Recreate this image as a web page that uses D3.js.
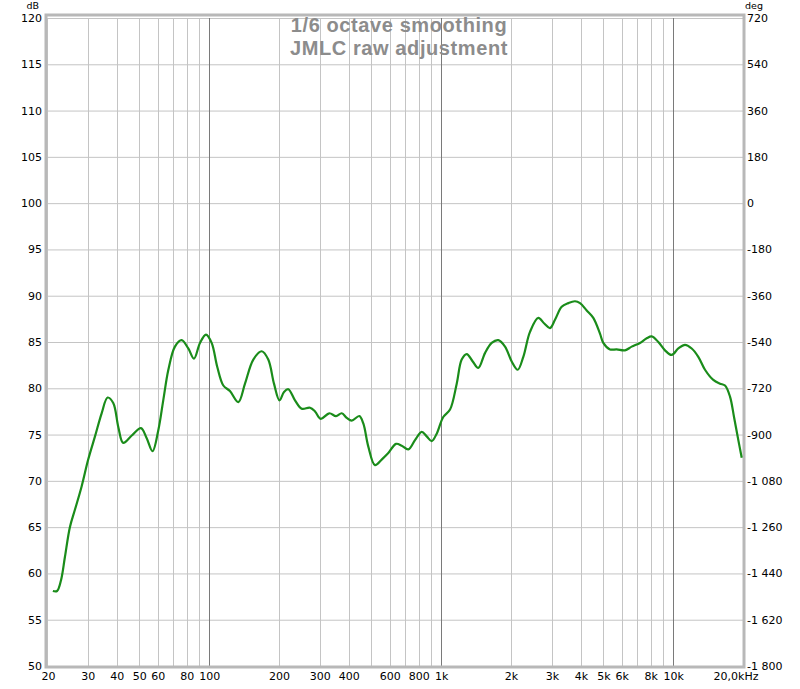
<!DOCTYPE html>
<html><head><meta charset="utf-8">
<script src="https://cdn.jsdelivr.net/npm/d3@7"></script>
<style>body{margin:0;background:#fff}svg{display:block}</style>
</head><body>
<script>
const freqs = [21.2,22.1,23.0,23.9,25.1,26.4,28.2,30.1,32.2,34.4,36.5,38.6,40.6,42.6,46.4,50.8,53.8,57.0,60.4,63.4,66.7,71.2,76.1,81.3,86.0,91.3,96.9,102.5,108.4,115.1,122.9,133.6,142.7,155.0,168.5,179.8,190.3,201,210.2,219.4,234.4,250.5,272.1,285.9,302.6,329.5,352.2,372.7,391.6,411.6,443.8,461.8,485.3,518.5,554.2,591.8,638.9,676,721.8,771.3,824.5,866.5,910.6,956.8,1021,1092,1167,1226,1289,1368,1446,1545,1651,1764,1885,2014,2138,2260,2415,2622,2783,2945,3095,3307,3532,3775,3967,4240,4527,4837,4998,5342,5709,6200,6627,7195,7691,8082,8630,9223,9856,10525,11246,12021,12834,13716,14894,15918,16730,17580,18294,19094,19747];
const levels = [58.1,58.1,59.3,61.8,65.0,66.9,69.4,72.3,74.8,77.3,79.0,78.4,75.8,74.1,74.9,75.7,74.6,73.2,75.5,78.7,82.0,84.5,85.2,84.3,83.2,84.9,85.8,84.9,82.3,80.3,79.7,78.5,80.5,83.1,84.0,83.1,80.5,78.7,79.6,79.9,78.7,77.8,77.9,77.5,76.7,77.3,77.0,77.3,76.8,76.5,77.0,76.2,73.7,71.7,72.3,73.0,74.0,73.8,73.4,74.4,75.3,74.8,74.3,75.1,76.9,77.7,80.5,83.1,83.7,82.9,82.2,83.8,84.9,85.2,84.5,82.9,82.0,83.4,86.1,87.6,87.0,86.5,87.4,88.8,89.2,89.4,89.2,88.4,87.6,85.9,84.9,84.2,84.2,84.1,84.5,84.9,85.4,85.6,85.0,84.1,83.6,84.3,84.7,84.3,83.4,82.0,80.9,80.5,80.3,79.1,76.9,74.4,72.5];
const dbTicks = [50,55,60,65,70,75,80,85,90,95,100,105,110,115,120];
const degTicks = [-1800,-1620,-1440,-1260,-1080,-900,-720,-540,-360,-180,0,180,360,540,720];
const gridFreqs = [20,30,40,50,60,70,80,90,100,200,300,400,500,600,700,800,900,1000,2000,3000,4000,5000,6000,7000,8000,9000,10000,20000];
const decadeFreqs = [100,1000,10000];
const freqLabelVals = [20,30,40,50,60,80,100,200,300,400,600,800,1000,2000,3000,4000,5000,6000,8000,10000,20000];
const freqLabelText = ["20","30","40","50","60","80","100","200","300","400","600","800","1k","2k","3k","4k","5k","6k","8k","10k","20,0kHz"];
const titleLines = ["1/6 octave smoothing","JMLC raw adjustment"];

const W=800,H=689;
const svg=d3.select("body").append("svg").attr("width",W).attr("height",H);
const x=d3.scaleLog().domain([20,20000]).range([47,743]);
const y=d3.scaleLinear().domain([50,120]).range([666,18]);
const yDeg=d3.scaleLinear().domain([-1800,720]).range([666,18]);
const font="DejaVu Sans, sans-serif";
const fs=11;

// grid
const g=svg.append("g");
g.selectAll("line.h").data(dbTicks).join("line")
  .attr("x1",47).attr("x2",743).attr("y1",d=>y(d)+0.5).attr("y2",d=>y(d)+0.5)
  .attr("stroke","#c4c4c4").attr("stroke-width",1);
g.selectAll("line.v").data(gridFreqs).join("line")
  .attr("x1",d=>Math.round(x(d))+0.5).attr("x2",d=>Math.round(x(d))+0.5).attr("y1",18).attr("y2",666)
  .attr("stroke",d=>decadeFreqs.includes(d)?"#7a7a7a":"#c4c4c4").attr("stroke-width",1);

// frame
svg.append("rect").attr("x",46).attr("y",15).attr("width",698).attr("height",652)
  .attr("fill","none").attr("stroke","#b8b8b8").attr("stroke-width",3);

// title
svg.selectAll("text.title").data(titleLines).join("text")
  .attr("x",399).attr("y",(d,i)=>32+i*23).attr("text-anchor","middle")
  .attr("font-family","Liberation Sans, Arial, sans-serif").attr("font-weight","bold")
  .attr("font-size",20).attr("letter-spacing",0.6).attr("fill","#8c8c8c").text(d=>d);

// curve
const pts=freqs.map((f,i)=>[f,levels[i]]);
svg.append("path").datum(pts)
  .attr("d",d3.line().x(d=>x(d[0])).y(d=>y(d[1])).curve(d3.curveCatmullRom.alpha(0.5)))
  .attr("fill","none").attr("stroke","#1a8c1a").attr("stroke-width",2.2).attr("stroke-linejoin","round");

// left axis
const yAxis=d3.axisLeft(y).tickValues(dbTicks).tickSize(0).tickPadding(5);
const ga=svg.append("g").attr("transform","translate(43,0)").call(yAxis);
ga.select(".domain").remove();
ga.selectAll("text").attr("font-family",font).attr("font-size",fs).attr("fill","#000").attr("x",-1);

// right axis
const fmt=v=>{const s=Math.abs(v).toString();const t=s.length>3?s.slice(0,s.length-3)+"\u00a0"+s.slice(-3):s;return (v<0?"-":"")+t;};
const rAxis=d3.axisRight(yDeg).tickValues(degTicks).tickFormat(fmt).tickSize(0).tickPadding(0);
const gr=svg.append("g").attr("transform","translate(747,0)").call(rAxis);
gr.select(".domain").remove();
gr.selectAll("text").attr("font-family",font).attr("font-size",fs).attr("fill","#000");

// bottom axis
const xAxis=d3.axisBottom(x).tickValues(freqLabelVals).tickFormat((d,i)=>freqLabelText[i]).tickSize(0).tickPadding(0);
const gb=svg.append("g").attr("transform","translate(0,672)").call(xAxis);
gb.select(".domain").remove();
gb.selectAll("text").attr("font-family",font).attr("font-size",fs).attr("fill","#000")
  .attr("text-anchor",(d,i)=>i===0?"start":(i===freqLabelVals.length-1?"end":"middle"))
  .attr("dx",(d,i)=>i===0?-6:(i===freqLabelVals.length-1?15:0));

// unit labels
svg.append("text").attr("x",39).attr("y",9).attr("text-anchor","end")
  .attr("font-family",font).attr("font-size",9.5).text("dB");
svg.append("text").attr("x",745).attr("y",9)
  .attr("font-family",font).attr("font-size",9.5).text("deg");
</script>
</body></html>
